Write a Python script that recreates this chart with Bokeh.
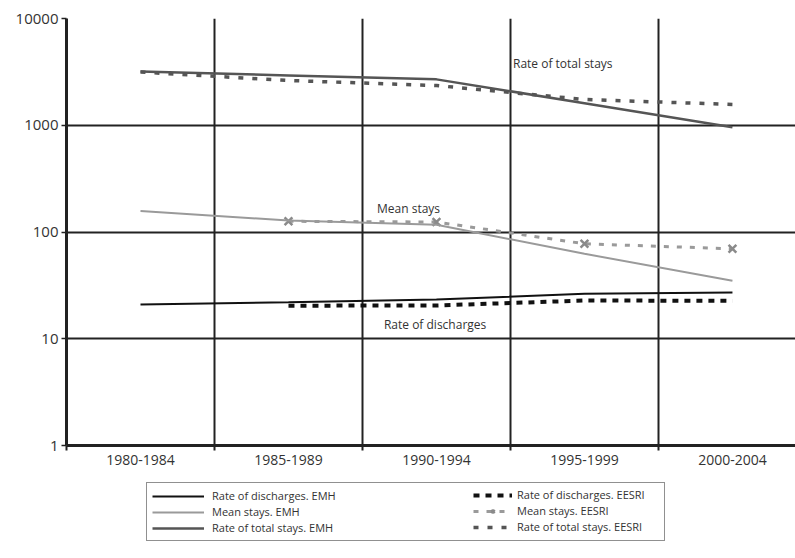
from bokeh.plotting import figure
from bokeh.layouts import column
from bokeh.models import Range1d, FixedTicker, NumeralTickFormatter, Legend, LegendItem, Label
from bokeh.embed import file_html
from bokeh.resources import INLINE

periods = ["1980-1984", "1985-1989", "1990-1994", "1995-1999", "2000-2004"]
discharges_emh = [20.9, 22.0, 23.3, 26.4, 27.1]
discharges_eesri = [None, 20.4, 20.5, 22.8, 22.7]
mean_emh = [157, 128, 117, 62.5, 35]
mean_eesri = [None, 126, 124, 77.5, 69.6]
total_emh = [3190, 2925, 2690, 1610, 959]
total_eesri = [3150, 2625, 2356, 1743, 1565]
y_ticks = [1, 10, 100, 1000, 10000]

x_pos = [i + 0.5 for i in range(len(periods))]

FONT = "Open Sans"
DARK = "#222222"

# styles
S_DIS_EMH = dict(line_color="#111111", line_width=2)
S_MEAN_EMH = dict(line_color="#9a9a9a", line_width=2)
S_TOT_EMH = dict(line_color="#555555", line_width=2.5)
S_DIS_EES = dict(line_color="#111111", line_width=4, line_dash="6 6")
S_MEAN_EES = dict(line_color="#9a9a9a", line_width=3, line_dash="5 8")
S_MEAN_EES_M = dict(marker="x", size=11, line_color="#8a8a8a", line_width=2.5)
S_TOT_EES = dict(line_color="#555555", line_width=3.5, line_dash="5 9")

p = figure(width=795, height=480, x_range=Range1d(0, 4.926), y_range=Range1d(1, 10000),
           y_axis_type="log", output_backend="svg", toolbar_location=None,
           min_border_left=66, min_border_right=0, min_border_top=18, min_border_bottom=35)
p.outline_line_color = None
p.background_fill_color = "white"
p.border_fill_color = "white"

# x axis
p.xaxis.ticker = FixedTicker(ticks=x_pos, minor_ticks=[0, 1, 2, 3, 4])
p.xaxis.major_label_overrides = {x: lab for x, lab in zip(x_pos, periods)}
p.xaxis.major_tick_line_color = None
p.xaxis.minor_tick_line_color = DARK
p.xaxis.minor_tick_line_width = 2
p.xaxis.minor_tick_out = 5
p.xaxis.minor_tick_in = 0
p.xaxis.axis_line_color = DARK
p.xaxis.axis_line_width = 3
p.xaxis.major_label_standoff = 3
p.xaxis.major_label_text_font = FONT
p.xaxis.major_label_text_font_size = "14px"
p.xaxis.major_label_text_color = "#333333"

# y axis
p.yaxis.ticker = FixedTicker(ticks=y_ticks, minor_ticks=[])
p.yaxis.formatter = NumeralTickFormatter(format="0")
p.yaxis.axis_line_color = DARK
p.yaxis.axis_line_width = 3
p.yaxis.major_tick_line_color = DARK
p.yaxis.major_tick_line_width = 1.5
p.yaxis.major_tick_out = 5
p.yaxis.major_tick_in = 0
p.yaxis.minor_tick_line_color = None
p.yaxis.major_label_standoff = 3
p.yaxis.major_label_text_font = FONT
p.yaxis.major_label_text_font_size = "15px"
p.yaxis.major_label_text_color = "#333333"

# grids
p.xgrid.ticker = FixedTicker(ticks=[1, 2, 3, 4])
p.xgrid.grid_line_color = DARK
p.xgrid.grid_line_width = 2
p.ygrid.ticker = FixedTicker(ticks=y_ticks)
p.ygrid.grid_line_color = DARK
p.ygrid.grid_line_width = 1.8

# series
p.line(x_pos, total_eesri, **S_TOT_EES)
p.line(x_pos, total_emh, **S_TOT_EMH)
p.line(x_pos[1:], mean_eesri[1:], **S_MEAN_EES)
p.scatter(x_pos[1:], mean_eesri[1:], **S_MEAN_EES_M)
p.line(x_pos, mean_emh, **S_MEAN_EMH)
p.line(x_pos[1:], discharges_eesri[1:], **S_DIS_EES)
p.line(x_pos, discharges_emh, **S_DIS_EMH)

# annotations
for tx, lx, ly in [("Rate of total stays", 3.017, 3790),
                   ("Mean stays", 2.098, 166),
                   ("Rate of discharges", 2.145, 13.6)]:
    p.add_layout(Label(x=lx, y=ly, text=tx, text_font=FONT, text_font_size="12px",
                       text_color="#333333", text_baseline="middle", text_align="left"))

# legend strip under the chart; its renderers hold the same series but lie outside its view
p2 = figure(width=795, height=78, x_range=Range1d(1000, 1729), y_range=Range1d(1000, 1078),
            output_backend="svg", toolbar_location=None,
            x_axis_location=None, y_axis_location=None,
            min_border_left=66, min_border_right=0, min_border_top=0, min_border_bottom=0)
p2.outline_line_color = None
p2.grid.visible = False
p2.background_fill_color = "white"
p2.border_fill_color = "white"

l_dis_emh = p2.line(x_pos, discharges_emh, **S_DIS_EMH)
l_mean_emh = p2.line(x_pos, mean_emh, **S_MEAN_EMH)
l_tot_emh = p2.line(x_pos, total_emh, **S_TOT_EMH)
l_dis_ees = p2.line(x_pos[1:], discharges_eesri[1:], **S_DIS_EES)
l_mean_ees = p2.line(x_pos[1:], mean_eesri[1:], **S_MEAN_EES)
l_mean_ees_m = p2.scatter(x_pos[1:], mean_eesri[1:], **S_MEAN_EES_M)
l_tot_ees = p2.line(x_pos, total_eesri, **S_TOT_EES)


def make_legend(items, loc, glyph_w, standoff, label_w, boxed):
    lg = Legend(items=items, location=loc, orientation="vertical",
                glyph_width=glyph_w, glyph_height=12, label_height=12, label_width=label_w,
                label_standoff=standoff, spacing=1, padding=5, margin=0,
                label_text_font=FONT, label_text_font_size="11px", label_text_color="#333333")
    if boxed:
        lg.border_line_color = DARK
        lg.border_line_width = 1.5
        lg.background_fill_color = "white"
        lg.background_fill_alpha = 1
    else:
        lg.border_line_color = None
        lg.background_fill_alpha = 0
    return lg


leg1 = make_legend([LegendItem(label="Rate of discharges. EMH", renderers=[l_dis_emh]),
                    LegendItem(label="Mean stays. EMH", renderers=[l_mean_emh]),
                    LegendItem(label="Rate of total stays. EMH", renderers=[l_tot_emh])],
                   (80, 17), 52, 8, 447, True)
leg2 = make_legend([LegendItem(label="Rate of discharges. EESRI", renderers=[l_dis_ees]),
                    LegendItem(label="Mean stays. EESRI", renderers=[l_mean_ees, l_mean_ees_m]),
                    LegendItem(label="Rate of total stays. EESRI", renderers=[l_tot_ees])],
                   (407, 24), 39, 5, 20, False)
p2.add_layout(leg1, "center")
p2.add_layout(leg2, "center")

layout = column(p, p2, spacing=0)
open("out.html", "w").write(file_html(layout, INLINE))
